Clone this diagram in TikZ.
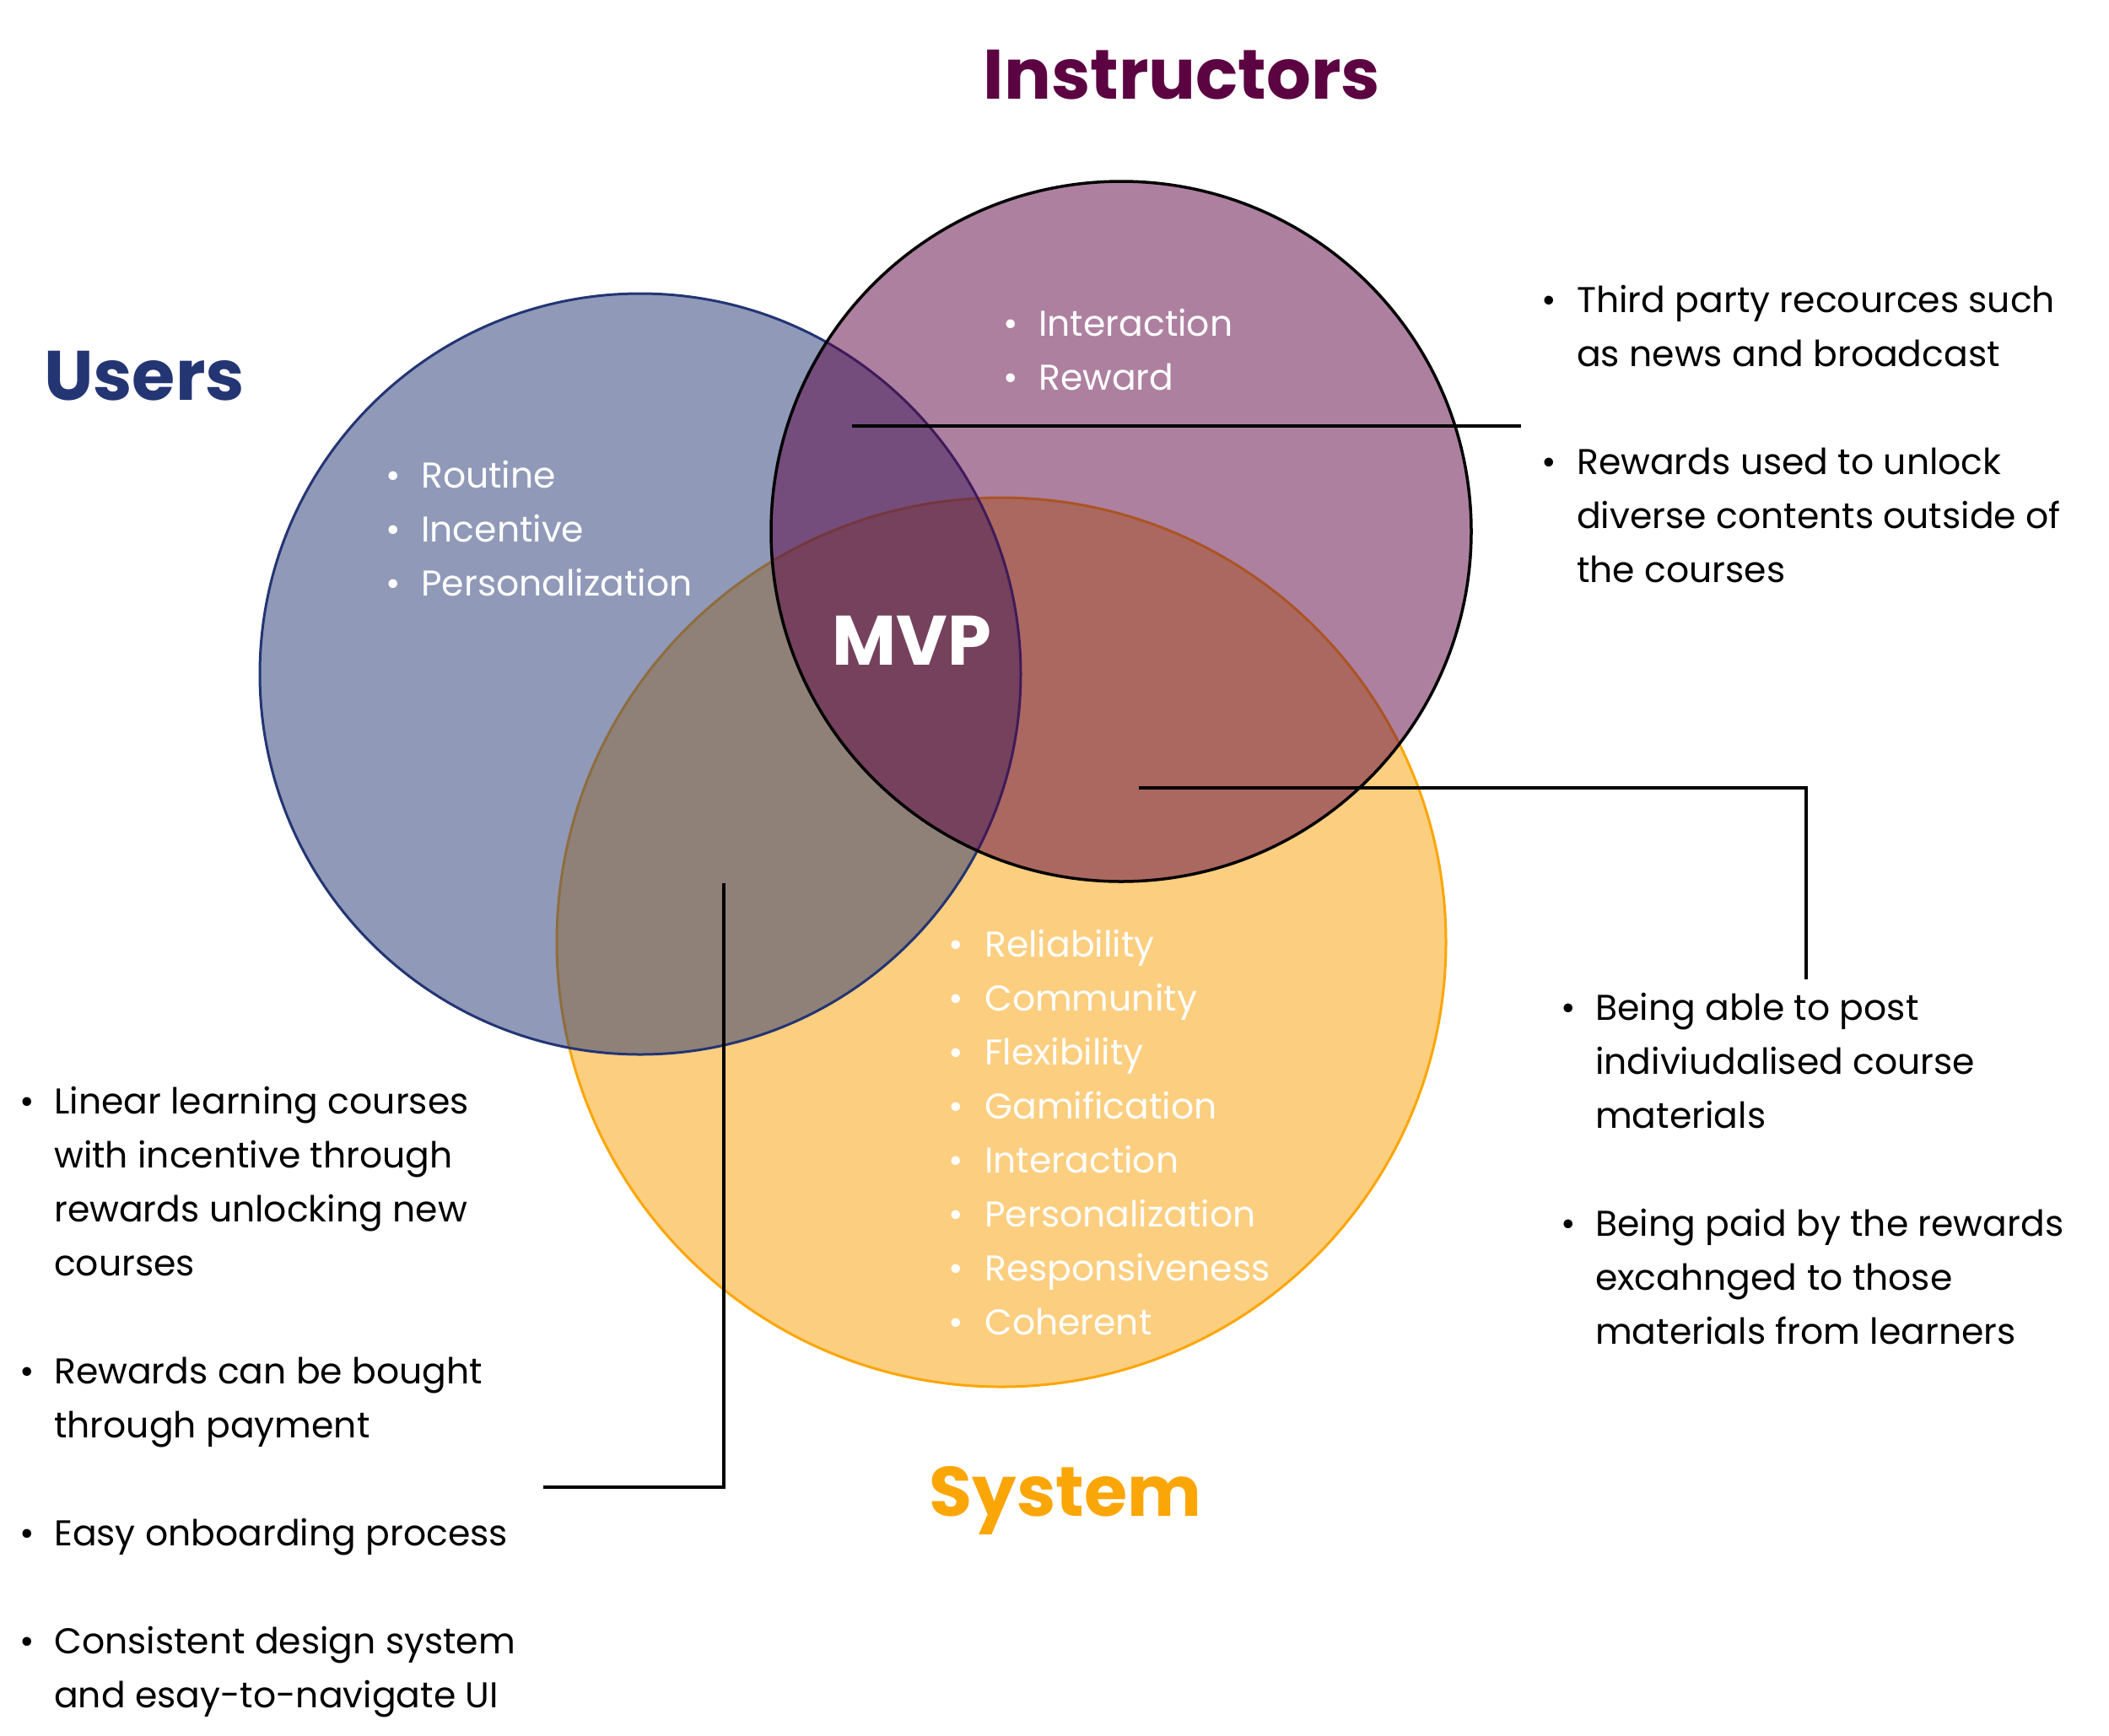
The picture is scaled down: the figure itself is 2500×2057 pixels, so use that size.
\documentclass[tikz,border=0pt]{standalone}
\usepackage{fontspec}
\setmainfont{Poppins}
\definecolor{usernavy}{HTML}{233573}
\definecolor{instrpurple}{HTML}{5C0342}
\definecolor{sysorange}{HTML}{FBA20A}
\definecolor{systitle}{HTML}{FBA607}
\tikzset{
  txt/.style={anchor=base west, inner sep=0pt, font=\fontsize{42.5}{64}\selectfont},
  wtxt/.style={txt, text=white},
  bul/.style={anchor=base, inner sep=0pt, font=\fontsize{42.5}{64}\selectfont},
  wbul/.style={bul, text=white},
  title/.style={anchor=base, inner sep=0pt, font=\fontsize{83}{100}\selectfont\bfseries},
  conn/.style={line width=3.5pt, black},
}
\begin{document}
\begin{tikzpicture}[x=1pt,y=-1pt]
\useasboundingbox (0,0) rectangle (2500,2057);
\fill[white] (0,0) rectangle (2500,2057);
% circles
\draw[line width=3pt, draw=systitle, fill=sysorange, fill opacity=0.52] (1187,1117) circle[radius=527pt];
\draw[line width=3pt, draw=usernavy, fill=usernavy, fill opacity=0.5] (759,799) circle[radius=451pt];
\draw[line width=3.5pt, draw=black, fill=instrpurple, fill opacity=0.5] (1329,630) circle[radius=415pt];
% titles
\node[title, text=instrpurple] (tInstr) at (1401,117) {Instructors};
\node[title, text=usernavy] (tUsers) at (171,474) {Users};
\node[title, text=systitle] (tSys) at (1263,1797) {System};
\node[title, text=white] (tMVP) at (1081,788) {MVP};
% users inner
\node[wbul] (ub1) at (466,578) {•}; \node[wtxt] (u1) at (499,578) {Routine};
\node[wbul] (ub2) at (466,642) {•}; \node[wtxt] (u2) at (499,642) {Incentive};
\node[wbul] (ub3) at (466,706) {•}; \node[wtxt] (u3) at (499,706) {Personalization};
% instructors inner
\node[wbul] (ib1) at (1198,398) {•}; \node[wtxt] (i1) at (1231,398) {Interaction};
\node[wbul] (ib2) at (1198,462) {•}; \node[wtxt] (i2) at (1231,462) {Reward};
% system inner
\node[wbul] (sb1) at (1133,1134) {•}; \node[wtxt] (s1) at (1167,1134) {Reliability};
\node[wbul] (sb2) at (1133,1198) {•}; \node[wtxt] (s2) at (1167,1198) {Community};
\node[wbul] (sb3) at (1133,1262) {•}; \node[wtxt] (s3) at (1167,1262) {Flexibility};
\node[wbul] (sb4) at (1133,1326) {•}; \node[wtxt] (s4) at (1167,1326) {Gamification};
\node[wbul] (sb5) at (1133,1390) {•}; \node[wtxt] (s5) at (1167,1390) {Interaction};
\node[wbul] (sb6) at (1133,1454) {•}; \node[wtxt] (s6) at (1167,1454) {Personalization};
\node[wbul] (sb7) at (1133,1518) {•}; \node[wtxt] (s7) at (1167,1518) {Responsiveness};
\node[wbul] (sb8) at (1133,1582) {•}; \node[wtxt] (s8) at (1167,1582) {Coherent};
% upper right text
\node[bul] (rb1) at (1836,370) {•}; \node[txt] (r1) at (1869,370) {Third party recources such};
\node[txt] (r2) at (1869,434) {as news and broadcast};
\node[bul] (rb2) at (1836,562) {•}; \node[txt] (r3) at (1869,562) {Rewards used to unlock};
\node[txt] (r4) at (1869,626) {diverse contents outside of};
\node[txt] (r5) at (1869,690) {the courses};
% lower right text
\node[bul] (qb1) at (1859,1209) {•}; \node[txt] (q1) at (1891,1209) {Being able to post};
\node[txt] (q2) at (1891,1273) {indiviudalised course};
\node[txt] (q3) at (1891,1337) {materials};
\node[bul] (qb2) at (1859,1465) {•}; \node[txt] (q4) at (1891,1465) {Being paid by the rewards};
\node[txt] (q5) at (1891,1529) {excahnged to those};
\node[txt] (q6) at (1891,1593) {materials from learners};
% left text
\node[bul] (lb1) at (32,1320) {•}; \node[txt] (l1) at (64,1320) {Linear learning courses};
\node[txt] (l2) at (64,1384) {with incentive through};
\node[txt] (l3) at (64,1448) {rewards unlocking new};
\node[txt] (l4) at (64,1512) {courses};
\node[bul] (lb2) at (32,1640) {•}; \node[txt] (l5) at (64,1640) {Rewards can be bought};
\node[txt] (l6) at (64,1704) {through payment};
\node[bul] (lb3) at (32,1832) {•}; \node[txt] (l7) at (64,1832) {Easy onboarding process};
\node[bul] (lb4) at (32,1960) {•}; \node[txt] (l8) at (64,1960) {Consistent design system};
\node[txt] (l9) at (64,2024) {and esay-to-navigate UI};
% connectors
\coordinate (c1a) at (1010,505); \coordinate (c1b) at (1803,505);
\coordinate (c2a) at (1350,934); \coordinate (c2m) at (2141,934); \coordinate (c2b) at (2141,1161);
\coordinate (c3a) at (858,1047); \coordinate (c3m) at (858,1763); \coordinate (c3b) at (644,1763);
\draw[conn] (c1a) -- (c1b);
\draw[conn] (c2a) -- (c2m) -- (c2b);
\draw[conn] (c3a) -- (c3m) -- (c3b);
\end{tikzpicture}
\end{document}
